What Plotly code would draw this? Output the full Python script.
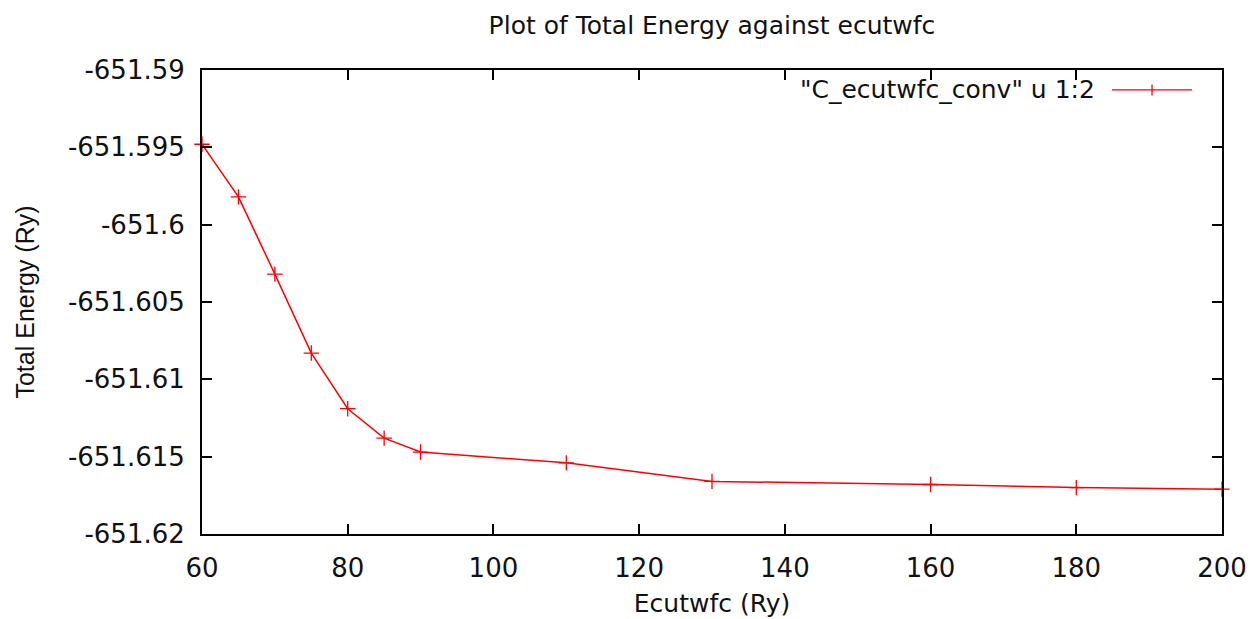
import plotly.graph_objects as go

ecutwfc = [60, 65, 70, 75, 80, 85, 90, 110, 130, 160, 180, 200]
energy = [-651.5948, -651.5982, -651.6032, -651.6083, -651.6119, -651.6138,
          -651.6147, -651.6154, -651.6166, -651.6168, -651.6170, -651.6171]
series_name = '"C_ecutwfc_conv" u 1:2'
y_ticks = [-651.59, -651.595, -651.6, -651.605, -651.61, -651.615, -651.62]
y_tick_text = ["-651.59", "-651.595", "-651.6", "-651.605", "-651.61", "-651.615", "-651.62"]
x_ticks = [60, 80, 100, 120, 140, 160, 180, 200]

font = "DejaVu Sans"
fig = go.Figure()
fig.add_trace(go.Scatter(
    x=ecutwfc, y=energy, mode="lines+markers", name=series_name,
    line=dict(color="#ff0000", width=1.5),
    marker=dict(symbol="cross-thin", size=11, line=dict(color="#ff0000", width=1.3)),
    showlegend=False, cliponaxis=False,
))

axis_common = dict(showline=True, linecolor="black", linewidth=2, mirror="ticks",
                   ticks="inside", ticklen=10, tickwidth=1.5, tickcolor="black",
                   showgrid=False, zeroline=False, ticklabelstandoff=10,
                   tickfont=dict(family=font, size=26, color="#111111"))
fig.update_xaxes(range=[60, 200], tickvals=x_ticks,
                 title=dict(text="Ecutwfc (Ry)", font=dict(family=font, size=25, color="#111111"), standoff=12),
                 **axis_common)
fig.update_yaxes(range=[-651.62, -651.59], tickvals=y_ticks, ticktext=y_tick_text,
                 title=dict(text="Total Energy (Ry)", font=dict(family="Liberation Sans", size=25, color="#111111"), standoff=26),
                 **axis_common)

# legend (gnuplot style: text then sample)
fig.add_annotation(xref="paper", yref="paper", x=0.8775, y=0.957, xanchor="right", yanchor="middle",
                   text=series_name, showarrow=False, font=dict(family=font, size=25, color="#111111"))
fig.add_shape(type="line", xref="paper", yref="paper", x0=0.8922, x1=0.9706, y0=0.957, y1=0.957,
              line=dict(color="#ff0000", width=1.3))
fig.add_shape(type="line", xref="paper", yref="paper", x0=0.9314, x1=0.9314, y0=0.945, y1=0.969,
              line=dict(color="#ff0000", width=1.3))

fig.update_layout(
    width=1254, height=619,
    margin=dict(l=194, r=40, t=62, b=93),
    paper_bgcolor="white", plot_bgcolor="white",
    title=dict(text="Plot of Total Energy against ecutwfc", xref="container", x=0.5614, xanchor="center",
               yref="container", y=0.9725, yanchor="middle",
               font=dict(family=font, size=25, color="#111111")),
)
fig.write_html("out.html")
